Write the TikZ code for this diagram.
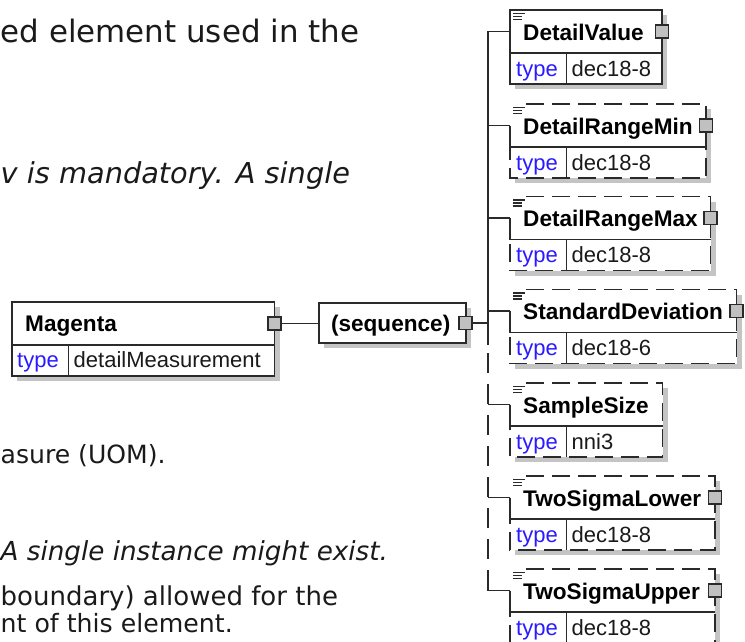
\documentclass[tikz,border=0pt]{standalone}
\usepackage{fontspec}
\setmainfont{Liberation Sans}
\newfontfamily\bodyf{DejaVu Sans}
\usetikzlibrary{backgrounds}
\definecolor{bdc}{HTML}{2A2A2A}
\definecolor{shd}{HTML}{C4C4C4}
\definecolor{sqf}{HTML}{C0C0C0}
\definecolor{typc}{HTML}{2A1AFF}
\definecolor{txt}{HTML}{1A1A1A}
\tikzset{
 bd/.style={draw=bdc, line width=1.7pt},
 hdr/.style={fill=white, inner sep=0pt, outer sep=0pt, minimum height=43pt},
 cellk/.style={fill=white, inner sep=0pt, outer sep=0pt, minimum height=31pt, minimum width=56.5pt},
 cellv/.style={fill=white, inner sep=0pt, outer sep=0pt, minimum height=31pt},
 ttl/.style={inner sep=0pt, font=\fontsize{22.6}{26}\selectfont\bfseries, text=black},
 typ/.style={inner sep=0pt, font=\fontsize{22}{26}\selectfont, text=typc},
 val/.style={inner sep=0pt, font=\fontsize{22}{26}\selectfont, text=txt},
 sq/.style={draw=bdc, line width=1.7pt, fill=sqf, minimum size=13pt, inner sep=0pt},
 icn/.style={draw=bdc, line width=1.1pt},
 conn/.style={draw=bdc, line width=1.7pt},
 dsh/.style={dash pattern=on 18pt off 8pt},
 trdash/.style={dash pattern=on 20pt off 11pt},
 bodytext/.style={inner sep=0pt, anchor=base west, text=txt},
}
\newcommand\elembox[7]{%
 \node[hdr, minimum width={#3-510}, anchor=north west] (#1) at (510,#2) {};
 \node[cellk, anchor=north west] (#1k) at (#1.south west) {};
 \node[cellv, minimum width={#3-566.5}, anchor=north west] (#1v) at (#1k.north east) {};
 \begin{scope}[on background layer]
  \fill[shd] ([shift={(5pt,-5pt)}]#1.north west) rectangle ([shift={(5pt,-5pt)}]#1v.south east);
 \end{scope}
 \ifnum#6=0
  \draw[bd] (#1.north west) rectangle (#1v.south east);
 \else
  \draw[bd,dsh] ([xshift=16pt]#1.north west) -- (#1.north east) -- (#1v.south east) -- (#1k.south west) -- (#1k.north west);
  \draw[bd] (#1.west) -- (#1.south west);
 \fi
 \draw[bd] (#1.south west) -- (#1.south east);
 \draw[bd] (#1k.north east) -- (#1k.south east);
 \draw[icn] ([shift={(3pt,-3.5pt)}]#1.north west) -- ++(12pt,0pt)
            ([shift={(3pt,-6.5pt)}]#1.north west) -- ++(9pt,0pt)
            ([shift={(3pt,-9.5pt)}]#1.north west) -- ++(9pt,0pt);
 \node[ttl, anchor=base west] (#1t) at ([xshift=13pt,yshift=-30pt]#1.north west) {#4};
 \node[typ, anchor=base west] (#1a) at ([xshift=6pt,yshift=-23pt]#1k.north west) {type};
 \node[val, anchor=base west] (#1b) at ([xshift=5pt,yshift=-23pt]#1v.north west) {#5};
 \ifnum#7=1 \node[sq] (#1s) at (#1.east) {};\fi
}
\begin{document}
\begin{tikzpicture}[x=1pt,y=-1pt]
\useasboundingbox (0,0) rectangle (745,641);
% background document text
\node[bodytext, font=\bodyf\fontsize{30.9}{36}\selectfont] (l1) at (0.5,42) {ed element used in the};
\node[bodytext, font=\bodyf\itshape\fontsize{28.8}{34}\selectfont] (l2) at (0.5,183) {v is mandatory. A single};
\node[bodytext, font=\bodyf\fontsize{25.1}{30}\selectfont] (l3) at (0.5,463) {asure (UOM).};
\node[bodytext, font=\bodyf\itshape\fontsize{26.2}{30}\selectfont] (l4) at (0.5,560) {A single instance might exist.};
\node[bodytext, font=\bodyf\fontsize{26}{30}\selectfont] (l5) at (0.5,605) {boundary) allowed for the};
\node[bodytext, font=\bodyf\fontsize{25.2}{30}\selectfont] (l6) at (0.5,632) {nt of this element.};

% Magenta
\node[hdr, minimum width=262.5pt, anchor=north west] (mag) at (12,302) {};
\node[cellk, anchor=north west] (magk) at (mag.south west) {};
\node[cellv, minimum width=206pt, anchor=north west] (magv) at (magk.north east) {};
\begin{scope}[on background layer]
 \fill[shd] ([shift={(5pt,-5pt)}]mag.north west) rectangle ([shift={(5pt,-5pt)}]magv.south east);
\end{scope}
\draw[bd] (mag.north west) rectangle (magv.south east);
\draw[bd] (mag.south west) -- (mag.south east);
\draw[bd] (magk.north east) -- (magk.south east);
\node[ttl, anchor=base west] (magt) at ([xshift=13pt,yshift=-29.7pt]mag.north west) {Magenta};
\node[typ, anchor=base west] (maga) at ([xshift=5pt,yshift=-22.5pt]magk.north west) {type};
\node[val, anchor=base west] (magb) at ([xshift=5pt,yshift=-22.5pt]magv.north west) {detailMeasurement};
\node[sq] (mags) at (mag.east) {};

% sequence
\node[hdr, minimum width=146.5pt, minimum height=40pt, anchor=north west] (seq) at (319.3,303) {};
\begin{scope}[on background layer]
 \fill[shd] ([shift={(5pt,-5pt)}]seq.north west) rectangle ([shift={(5pt,-5pt)}]seq.south east);
\end{scope}
\draw[bd] (seq.north west) rectangle (seq.south east);
\node[ttl, anchor=base west] (seqt) at ([xshift=11.5pt,yshift=-28.7pt]seq.north west) {(sequence)};
\node[sq] (seqs) at (seq.east) {};

% children
\elembox{e1}{10}{662}{DetailValue}{dec18-8}{0}{1}
\elembox{e2}{104}{706}{DetailRangeMin}{dec18-8}{1}{1}
\elembox{e3}{196.5}{710.5}{DetailRangeMax}{dec18-8}{1}{1}
\elembox{e4}{289.5}{736.5}{StandardDeviation}{dec18-6}{1}{1}
\elembox{e5}{383}{662.5}{SampleSize}{nni3}{1}{0}
\elembox{e6}{476}{715}{TwoSigmaLower}{dec18-8}{1}{1}
\elembox{e7}{569}{715}{TwoSigmaUpper}{dec18-8}{1}{1}

% connectors
\coordinate (trk) at (488,0);
\coordinate (tsplit) at (488,345);
\coordinate (tdash) at (488,353);
\coordinate (tend) at (488,582);
\draw[conn] (mags.east) -- (mags.east -| seq.west);
\draw[conn] (seqs.east) -- (seqs.east -| trk);
\draw[conn] (e1.west) -- (trk |- e1.west) -- (tsplit);
\draw[conn, trdash] (tdash) -- (tend);
\draw[conn] (tend) -- (trk |- e7.west) -- (e7.west);
\foreach \n in {e2,e3,e4,e5,e6}{
 \draw[conn] (trk |- \n.west) -- (\n.west);
}
\end{tikzpicture}
\end{document}
